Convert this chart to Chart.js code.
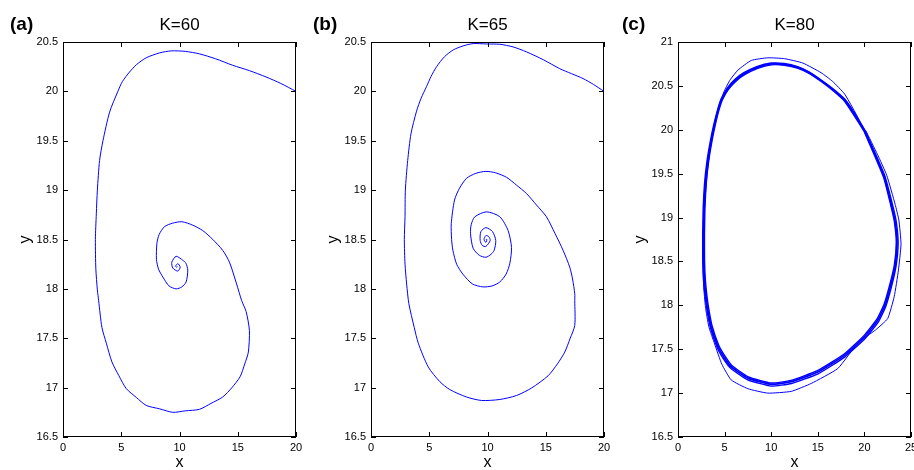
<!DOCTYPE html>
<html><head><meta charset="utf-8">
<script src="https://cdn.jsdelivr.net/npm/chart.js@4/dist/chart.umd.min.js"></script>
<style>
html,body{margin:0;padding:0;background:#fff;}
#wrap{position:relative;width:914px;height:470px;overflow:hidden;background:#fff}
canvas{position:absolute;top:0}
</style></head><body>
<div id="wrap">
<canvas id="ca" width="305" height="470" style="left:0px"></canvas>
<canvas id="cb" width="305" height="470" style="left:308px"></canvas>
<canvas id="cc" width="299" height="470" style="left:615px"></canvas>
</div>
<script>
// ---- labels & ticks ----
const panelLabels = ['(a)', '(b)', '(c)'];
const panelTitles = ['K=60', 'K=65', 'K=80'];
const xLabel = 'x';
const yLabel = 'y';
const xTicksAB = [0, 5, 10, 15, 20];
const xTicksC = [0, 5, 10, 15, 20, 25];
const yTicksAB = [16.5, 17, 17.5, 18, 18.5, 19, 19.5, 20, 20.5];
const yTicksC = [16.5, 17, 17.5, 18, 18.5, 19, 19.5, 20, 20.5, 21];

// ---- panel (a) K=60 trajectory ----
const aX = [20,18.7,17.43,16.0,14.57,13.1,11.71,10.5,9.3,8.3,7.14,6.3,5.71,5.1,4.71,4.0,3.43,3.14,2.95,2.86,2.78,2.82,2.95,3.06,3.34,3.72,4.2,4.8,5.43,6.3,7.14,8.3,9.43,10.5,11.71,12.7,13.71,14.5,15.2,15.6,15.91,16.0,15.72,15.34,14.9,14.29,13.71,12.86,12.0,11.14,10.2,9.4,8.71,8.25,8.06,8.02,8.2,8.57,9.1,9.71,10.2,10.57,10.71,10.55,10.28,9.71,9.34,9.43,9.86,10.06,9.86,9.66,9.77,9.82];
const aY = [20.0,20.08,20.146,20.21,20.264,20.33,20.38,20.405,20.41,20.39,20.34,20.27,20.196,20.1,20.0,19.79,19.5,19.3,19.0,18.76,18.5,18.2,17.99,17.88,17.61,17.45,17.26,17.12,16.99,16.9,16.82,16.785,16.75,16.765,16.78,16.84,16.905,17.0,17.11,17.24,17.36,17.58,17.77,17.88,18.05,18.27,18.39,18.5,18.59,18.645,18.68,18.665,18.63,18.55,18.46,18.3,18.2,18.12,18.03,18.0,18.02,18.07,18.19,18.26,18.29,18.33,18.27,18.21,18.18,18.22,18.256,18.23,18.22,18.225];

// ---- panel (b) K=65 trajectory ----
const bX = [20,19.1,18.2,17.2,16.2,14.8,13.35,12.2,11.06,9.9,8.77,7.9,7.06,6.3,5.63,5.15,4.77,4.3,3.91,3.43,3.15,2.95,2.92,2.86,2.92,3.06,3.25,3.71,4.06,4.91,5.91,6.77,8.2,9.49,11.06,12.49,13.78,15.2,16.0,16.63,17.1,17.49,17.49,17.49,17.3,17.06,16.49,15.8,15.06,14.2,13.35,12.5,11.63,10.7,9.86,9.0,8.2,7.6,7.17,6.89,6.92,7.03,7.35,7.88,8.7,9.6,10.4,11.06,11.6,11.92,12.06,11.77,11.06,9.92,8.91,8.6,8.54,8.77,9.3,9.86,10.3,10.57,10.71,10.43,9.86,9.43,9.37,9.55,9.86,10.23,10.1,9.86,9.7,9.86,9.95,9.86];
const bY = [20.0,20.07,20.13,20.18,20.23,20.32,20.40,20.45,20.477,20.48,20.484,20.46,20.42,20.35,20.25,20.15,20.05,19.93,19.8,19.57,19.30,19.0,18.73,18.5,18.25,18.05,17.85,17.61,17.45,17.21,17.06,16.98,16.905,16.87,16.88,16.92,16.996,17.12,17.24,17.36,17.5,17.63,17.88,17.95,18.1,18.22,18.39,18.56,18.73,18.85,18.965,19.05,19.13,19.175,19.19,19.17,19.12,19.02,18.90,18.66,18.5,18.39,18.25,18.15,18.05,18.02,18.03,18.07,18.15,18.26,18.42,18.59,18.73,18.78,18.73,18.65,18.56,18.41,18.34,18.32,18.35,18.39,18.49,18.58,18.62,18.58,18.49,18.44,18.43,18.49,18.53,18.54,18.5,18.47,18.5,18.5];

// ---- panel (c) K=80: transient loop and limit-cycle loops ----
const cTransX = [20.0,18.9,17.86,16.6,15.36,13.4,11.43,9.64,7.86,6.43,5.6,5.0,4.4,3.9,3.45,3.1,2.85,2.7,2.68,2.75,2.95,3.3,3.93,4.7,5.71,7.5,9.64,12.15,14.29,17.14,19.3,21.2,22.5,23.2,23.65,23.93,23.7,23.3,22.4,21.4,20.15];
const cTransY = [20.0,20.22,20.41,20.55,20.65,20.76,20.81,20.82,20.79,20.68,20.57,20.45,20.26,20.03,19.78,19.48,19.12,18.8,18.5,18.22,17.98,17.76,17.56,17.33,17.15,17.05,17.0,17.02,17.11,17.28,17.57,17.72,17.85,18.1,18.4,18.7,18.97,19.15,19.48,19.72,19.99];
const cLoop1X = [20.08,18.95,17.88,16.6,15.33,14.05,12.83,11.4,10.0,8.45,7.07,6.12,5.28,4.62,4.2,3.8,3.47,3.1,2.85,2.7,2.65,2.66,2.75,2.95,3.16,3.5,4.22,4.95,5.68,7.48,10.0,12.18,15.03,17.88,20.05,21.52,22.3,22.9,23.4,23.62,23.42,23.1,22.22,21.32,20.08];
const cLoop1Y = [19.99,20.19,20.35,20.47,20.57,20.66,20.72,20.755,20.76,20.72,20.65,20.575,20.475,20.35,20.21,20.04,19.87,19.635,19.39,19.1,18.8,18.5,18.275,18.07,17.91,17.735,17.515,17.38,17.28,17.15,17.08,17.11,17.22,17.41,17.62,17.815,17.99,18.21,18.45,18.71,18.95,19.11,19.465,19.695,19.99];
const cLoop2X = [20.0,18.9,17.86,16.6,15.36,14.1,12.86,11.4,10.0,8.5,7.14,6.2,5.36,4.7,4.29,3.9,3.57,3.21,2.95,2.8,2.75,2.76,2.85,3.04,3.25,3.57,4.29,5.0,5.71,7.5,10.0,12.15,15.0,17.86,20.0,21.43,22.2,22.8,23.3,23.5,23.3,23.0,22.14,21.25,20.0];
const cLoop2Y = [19.99,20.18,20.34,20.46,20.56,20.65,20.71,20.745,20.75,20.71,20.64,20.57,20.47,20.35,20.22,20.05,19.88,19.65,19.4,19.1,18.8,18.5,18.28,18.08,17.92,17.75,17.53,17.4,17.30,17.17,17.10,17.13,17.24,17.43,17.64,17.83,18.0,18.22,18.45,18.72,18.95,19.1,19.46,19.69,19.99];
const cLoop3X = [19.95,18.85,17.83,16.58,15.36,14.1,12.88,11.42,10.02,8.55,7.2,6.28,5.43,4.78,4.37,3.98,3.65,3.3,3.04,2.89,2.84,2.85,2.94,3.12,3.34,3.66,4.37,5.08,5.78,7.55,10.0,12.12,14.95,17.83,19.95,21.36,22.12,22.72,23.22,23.42,23.22,22.92,22.07,21.18,19.95];
const cLoop3Y = [19.985,20.17,20.33,20.45,20.55,20.64,20.70,20.735,20.74,20.70,20.63,20.56,20.465,20.345,20.215,20.045,19.875,19.65,19.4,19.1,18.8,18.5,18.285,18.09,17.935,17.765,17.545,17.415,17.315,17.185,17.115,17.145,17.255,17.445,17.655,17.845,18.015,18.235,18.465,18.72,18.95,19.1,19.455,19.685,19.985];

// ---- rendering ----
const FONT = "'Liberation Sans', Arial, Helvetica, sans-serif";
const LINE = 'rgb(0,0,255)';
const pts = (xs, ys) => xs.map((x, i) => ({x: x, y: ys[i]}));

const boxPlugin = {
  id: 'box',
  afterDraw(chart, args, opts) {
    const ctx = chart.ctx;
    const {left, top, right, bottom} = chart.chartArea;
    const xs = chart.scales.x, ys = chart.scales.y;
    ctx.save();
    ctx.strokeStyle = '#000';
    ctx.lineWidth = 1;
    ctx.strokeRect(left + 0.5, top + 0.5, right - left - 1, bottom - top - 1);
    ctx.beginPath();
    xs.ticks.forEach(t => {
      const p = Math.round(xs.getPixelForValue(t.value)) + 0.5;
      ctx.moveTo(p, bottom); ctx.lineTo(p, bottom - 5);
      ctx.moveTo(p, top); ctx.lineTo(p, top + 5);
    });
    ys.ticks.forEach(t => {
      const p = Math.round(ys.getPixelForValue(t.value)) + 0.5;
      ctx.moveTo(left, p); ctx.lineTo(left + 5, p);
      ctx.moveTo(right, p); ctx.lineTo(right - 5, p);
    });
    ctx.stroke();
    ctx.fillStyle = '#000';
    ctx.font = 'bold 19px ' + FONT;
    ctx.textBaseline = 'middle';
    ctx.textAlign = 'left';
    ctx.fillText(opts.label, opts.labelX, 25);
    ctx.restore();
  }
};

function makeChart(id, datasets, xMax, yMin, yMax, xTicks, yTicks, title, label, labelX, canvasW) {
  new Chart(document.getElementById(id), {
    type: 'scatter',
    data: { datasets: datasets },
    options: {
      responsive: false,
      animation: false,
      devicePixelRatio: 1,
      layout: { padding: { left: 0, top: 0, bottom: 0, right: canvasW - 296 } },
      plugins: {
        legend: { display: false },
        tooltip: { enabled: false },
        title: {
          display: true, text: title, fullSize: false, color: '#000',
          font: { family: FONT, size: 17, weight: 'normal', lineHeight: 1.2 },
          padding: { top: 14.8, bottom: 6.8 }
        },
        box: { label: label, labelX: labelX }
      },
      scales: {
        x: {
          type: 'linear', min: 0, max: xMax,
          afterBuildTicks: s => { s.ticks = xTicks.map(v => ({value: v})); },
          afterFit: s => { s.height = 33; s.paddingLeft = 0; s.paddingRight = 0; },
          grid: { display: false, drawTicks: false },
          border: { display: false },
          ticks: { autoSkip: false, maxRotation: 0, padding: 4, color: '#000',
                   font: { family: FONT, size: 11 }, callback: v => String(v) },
          title: { display: true, text: xLabel, color: '#000',
                   font: { family: FONT, size: 16, lineHeight: 0.9 },
                   padding: { top: 0, bottom: 0.2 } }
        },
        y: {
          type: 'linear', min: yMin, max: yMax,
          afterBuildTicks: s => { s.ticks = yTicks.map(v => ({value: v})); },
          afterFit: s => { s.width = 63; s.paddingTop = 0; s.paddingBottom = 0; },
          grid: { display: false, drawTicks: false },
          border: { display: false },
          ticks: { autoSkip: false, padding: 5, color: '#000',
                   font: { family: FONT, size: 11 }, callback: v => String(v) },
          title: { display: true, text: yLabel, color: '#000',
                   font: { family: FONT, size: 16, lineHeight: 1 },
                   padding: { top: 17.8, bottom: 0 } }
        }
      }
    },
    plugins: [boxPlugin]
  });
}

function ds(xs, ys, w, t) {
  return { data: pts(xs, ys), showLine: true, borderColor: LINE, borderWidth: w,
           pointRadius: 0, tension: t, fill: false };
}

makeChart('ca', [ds(aX, aY, 1, 0.25)], 20, 16.5, 20.5, xTicksAB, yTicksAB, panelTitles[0], panelLabels[0], 10, 305);
makeChart('cb', [ds(bX, bY, 1, 0.25)], 20, 16.5, 20.5, xTicksAB, yTicksAB, panelTitles[1], panelLabels[1], 5, 305);
makeChart('cc', [ds(cTransX, cTransY, 1, 0.15), ds(cLoop1X, cLoop1Y, 1.4, 0.15), ds(cLoop2X, cLoop2Y, 1.8, 0.15), ds(cLoop3X, cLoop3Y, 1.4, 0.15)],
          25, 16.5, 21, xTicksC, yTicksC, panelTitles[2], panelLabels[2], 7, 299);
</script>
</body></html>
